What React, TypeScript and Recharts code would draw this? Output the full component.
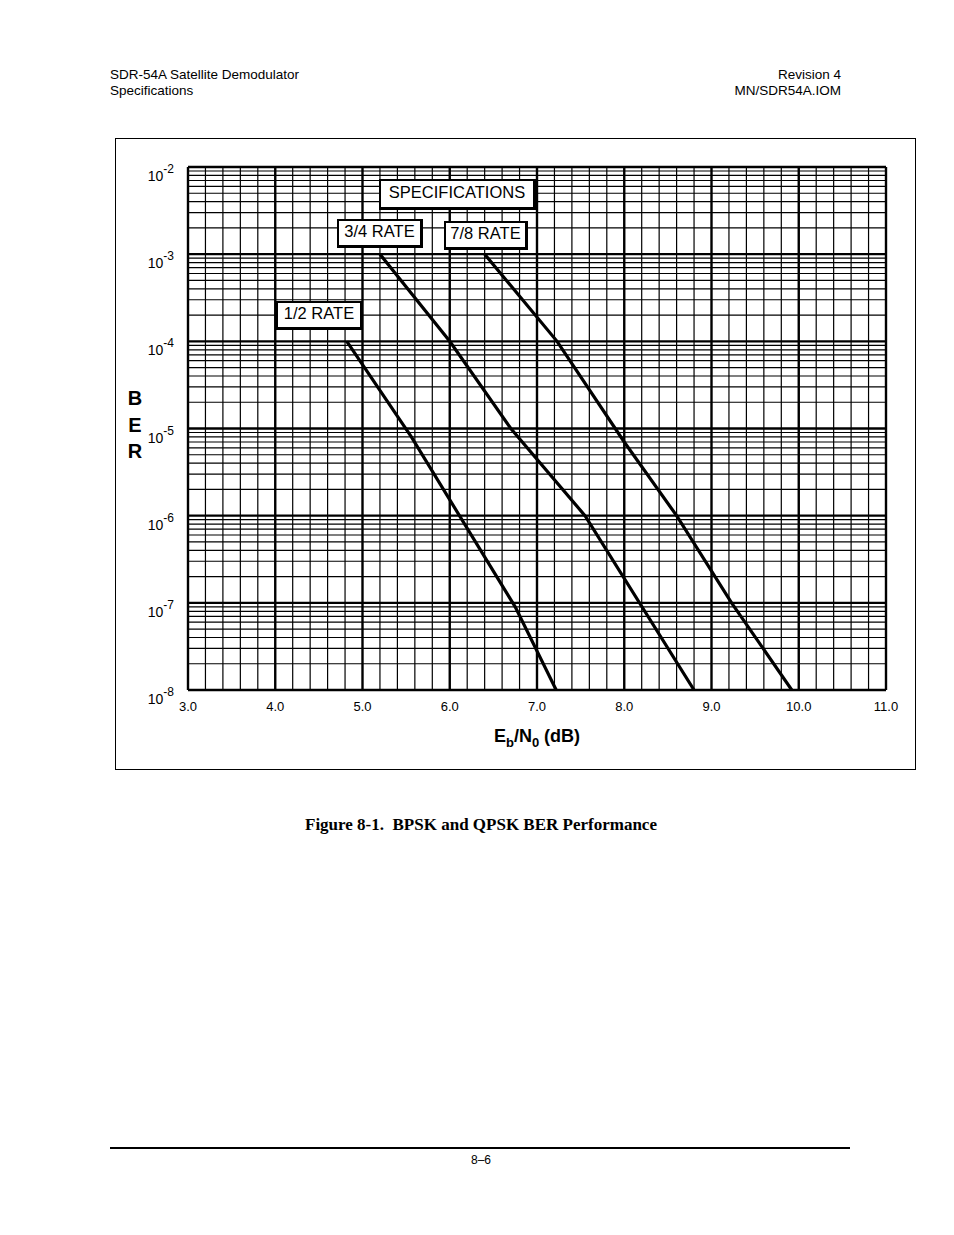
import React from "react";
import { LineChart, Line, XAxis, YAxis, ReferenceLine } from "recharts";

// Eb/N0 (dB) vs BER
const halfRate = [
  { x: 4.82, ber: 1e-4 },
  { x: 5.56, ber: 8e-6 },
  { x: 6.75, ber: 9e-8 },
  { x: 7.22, ber: 1e-8 },
];
const threeQuarterRate = [
  { x: 5.2, ber: 1e-3 },
  { x: 6.0, ber: 1e-4 },
  { x: 6.7, ber: 1e-5 },
  { x: 7.55, ber: 1e-6 },
  { x: 8.8, ber: 1e-8 },
];
const sevenEighthRate = [
  { x: 6.4, ber: 1e-3 },
  { x: 7.23, ber: 1e-4 },
  { x: 8.0, ber: 7e-6 },
  { x: 8.6, ber: 1e-6 },
  { x: 9.23, ber: 1e-7 },
  { x: 9.92, ber: 1e-8 },
];

const xTicks = [3, 4, 5, 6, 7, 8, 9, 10, 11];
const yTicks = [1e-2, 1e-3, 1e-4, 1e-5, 1e-6, 1e-7, 1e-8];
const exponents = [-2, -3, -4, -5, -6, -7, -8];

// grid: every 0.2 dB, and 1..9 per decade
const vGrid: number[] = [];
for (let i = 0; i <= 40; i++) vGrid.push(+(3 + i * 0.2).toFixed(1));
const hGrid: number[] = [1e-2];
for (let d = -8; d <= -3; d++) {
  for (let m = 1; m <= 9; m++) hGrid.push(m * Math.pow(10, d));
}

const sans = "'Liberation Sans', Arial, sans-serif";

const YTick = ({ x, y, payload }: any) => {
  const idx = yTicks.findIndex((t) => Math.abs(Math.log10(t) - Math.log10(payload.value)) < 0.01);
  const e = exponents[idx];
  return (
    <text x={x - 6} y={y + 14} textAnchor="end" fontFamily={sans} fontSize={14} fill="#000">
      <tspan>10</tspan>
      <tspan dy={-8} fontSize={12}>{e}</tspan>
    </text>
  );
};

const XTick = ({ x, y, payload }: any) => (
  <text x={x} y={y + 13} textAnchor="middle" fontFamily={sans} fontSize={13} fill="#000">
    {payload.value.toFixed(1)}
  </text>
);

const Box = ({ left, top, width, height, text }: any) => (
  <div
    style={{
      position: "absolute",
      left,
      top,
      width,
      height,
      boxSizing: "border-box",
      background: "#fff",
      borderTop: "2px solid #000",
      borderLeft: "2px solid #000",
      borderRight: "3px solid #000",
      borderBottom: "3px solid #000",
      fontFamily: sans,
      fontSize: 16.5,
      display: "flex",
      alignItems: "center",
      justifyContent: "center",
      paddingBottom: 3,
    }}
  >
    {text}
  </div>
);

export default function App() {
  return (
    <div style={{ position: "absolute", left: 0, top: 0, width: 954, height: 1235, background: "#fff", fontFamily: sans }}>
      <div style={{ position: "absolute", left: 110, top: 67, fontSize: 13.5, lineHeight: "16px" }}>
        SDR-54A Satellite Demodulator
        <br />
        Specifications
      </div>
      <div style={{ position: "absolute", right: 113, top: 67, fontSize: 13.5, lineHeight: "16px", textAlign: "right" }}>
        Revision 4
        <br />
        MN/SDR54A.IOM
      </div>

      <div style={{ position: "absolute", left: 115, top: 138, width: 801, height: 632, boxSizing: "border-box", border: "1px solid #000" }} />

      <div style={{ position: "absolute", left: 115, top: 138 }}>
        <LineChart width={800} height={631} margin={{ top: 29, right: 29, bottom: 49, left: 13 }}>
          <XAxis
            type="number"
            dataKey="x"
            domain={[3, 11]}
            ticks={xTicks}
            tick={<XTick />}
            axisLine={false}
            tickLine={false}
            height={30}
            allowDataOverflow
          />
          <YAxis
            type="number"
            dataKey="ber"
            scale="log"
            domain={[1e-8, 1e-2]}
            ticks={yTicks}
            tick={<YTick />}
            axisLine={false}
            tickLine={false}
            width={60}
            allowDataOverflow
          />
          {vGrid.map((v) => (
            <ReferenceLine
              key={"v" + v}
              x={v}
              stroke="#000"
              strokeWidth={Number.isInteger(v) ? 2.4 : 1.2}
              ifOverflow="visible"
            />
          ))}
          {hGrid.map((v, i) => {
            const major = Math.abs(Math.log10(v) - Math.round(Math.log10(v))) < 1e-6;
            return (
              <ReferenceLine
                key={"h" + i}
                y={v}
                stroke="#000"
                strokeWidth={major ? 2.4 : 1.2}
                ifOverflow="visible"
              />
            );
          })}
          <Line data={halfRate} dataKey="ber" type="linear" stroke="#000" strokeWidth={3.2} dot={false} isAnimationActive={false} />
          <Line data={threeQuarterRate} dataKey="ber" type="linear" stroke="#000" strokeWidth={3.2} dot={false} isAnimationActive={false} />
          <Line data={sevenEighthRate} dataKey="ber" type="linear" stroke="#000" strokeWidth={3.2} dot={false} isAnimationActive={false} />
        </LineChart>
      </div>

      <Box left={379} top={179} width={157} height={31} text="SPECIFICATIONS" />
      <Box left={337} top={219} width={86} height={29} text="3/4 RATE" />
      <Box left={444} top={221} width={84} height={29} text="7/8 RATE" />
      <Box left={276} top={301} width={87} height={29} text="1/2 RATE" />

      <div style={{ position: "absolute", left: 124, top: 385, width: 22, fontSize: 20, fontWeight: "bold", lineHeight: "26.5px", textAlign: "center" }}>
        B<br />E<br />R
      </div>

      <div style={{ position: "absolute", left: 437, top: 726, width: 200, textAlign: "center", fontSize: 18, fontWeight: "bold" }}>
        E<sub style={{ fontSize: 13, verticalAlign: "-5px" }}>b</sub>/N<sub style={{ fontSize: 13, verticalAlign: "-5px" }}>0</sub> (dB)
      </div>

      <div style={{ position: "absolute", left: 0, top: 815, width: 962, textAlign: "center", fontFamily: "'Liberation Serif', 'Times New Roman', serif", fontSize: 17, fontWeight: "bold", whiteSpace: "pre" }}>
        {"Figure 8-1.  BPSK and QPSK BER Performance"}
      </div>

      <div style={{ position: "absolute", left: 110, top: 1147, width: 740, height: 2, background: "#000" }} />
      <div style={{ position: "absolute", left: 0, top: 1153, width: 962, textAlign: "center", fontSize: 12 }}>8–6</div>
    </div>
  );
}
